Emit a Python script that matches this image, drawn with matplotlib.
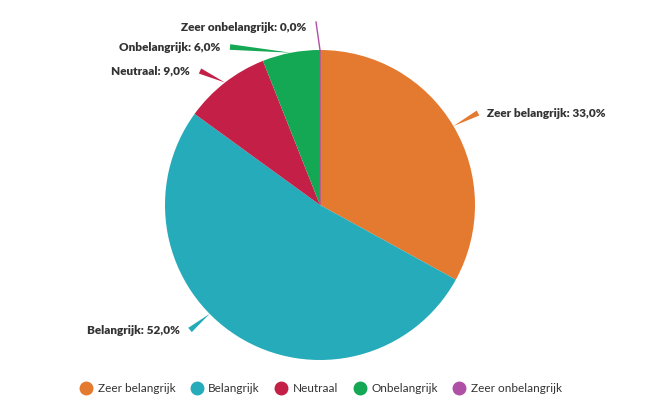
import numpy as np
import matplotlib
matplotlib.use("Agg")
import matplotlib.pyplot as plt
from matplotlib.lines import Line2D
from matplotlib.patches import Polygon

plt.rcParams['font.family'] = ['Lato', 'DejaVu Sans']

categories = ["Zeer belangrijk", "Belangrijk", "Neutraal", "Onbelangrijk", "Zeer onbelangrijk"]
values = [33.0, 52.0, 9.0, 6.0, 0.0]
colors = ["#E47A30", "#26ABBA", "#C42047", "#14A754", "#B04FA6"]

# layout (pixel space, y down)
cx, cy, radius = 320, 205, 155
label_xy = [(478, 113), (190, 330), (200, 71), (230, 47), (316, 22)]
label_shift = [0, 13, 0, 0, 0]   # highcharts nudged the big slice's connector

fig = plt.figure(figsize=(6.66, 4.12), dpi=100)
ax = fig.add_axes([0, 0, 1, 1])

wedges, _ = ax.pie(values, colors=colors, startangle=-90, counterclock=True,
                   center=(cx, cy), radius=radius, frame=True,
                   wedgeprops=dict(edgecolor="none", linewidth=0))
wedges[-1].set_edgecolor(colors[-1])
wedges[-1].set_linewidth(1.0)
ax.set_xlim(0, 666)
ax.set_ylim(412, 0)
ax.set_aspect("equal")
ax.axis("off")

total = sum(values)
cum = np.cumsum([0] + values)
for i, (name, val) in enumerate(zip(categories, values)):
    mid = -90 + (cum[i] + val / 2) / total * 360 + label_shift[i]
    a = np.radians(mid)
    px, py = cx + radius * np.cos(a), cy + radius * np.sin(a)
    qx, qy = label_xy[i]
    if val > 0:
        d = np.array([qx - px, qy - py])
        n = np.array([-d[1], d[0]]) / np.hypot(*d) * 2.8
        ax.add_patch(Polygon([(px, py), (qx + n[0], qy + n[1]), (qx - n[0], qy - n[1])],
                             closed=True, facecolor=colors[i], edgecolor="none", zorder=3))
    else:
        ax.plot([px, qx], [py, qy], color=colors[i], lw=1, zorder=3)
    right = qx > cx
    tx = qx + 9 if right else qx - 10
    ty = qy if i != 4 else qy + 5
    ax.text(tx, ty, f"{name}: {val:.1f}".replace(".", ",") + "%",
            ha="left" if right else "right", va="center",
            fontsize=8.5, fontweight="heavy", color="#333333")

handles = [Line2D([], [], marker="o", linestyle="", markersize=9, color=c) for c in colors]
ax.legend(handles, categories, loc="center", bbox_to_anchor=(321, 389),
          bbox_transform=ax.transData, ncol=5, frameon=False, fontsize=8.5,
          handletextpad=0.5, columnspacing=1.3, labelcolor="#333333", handlelength=1.0)

fig.savefig("out.png", dpi=100)
